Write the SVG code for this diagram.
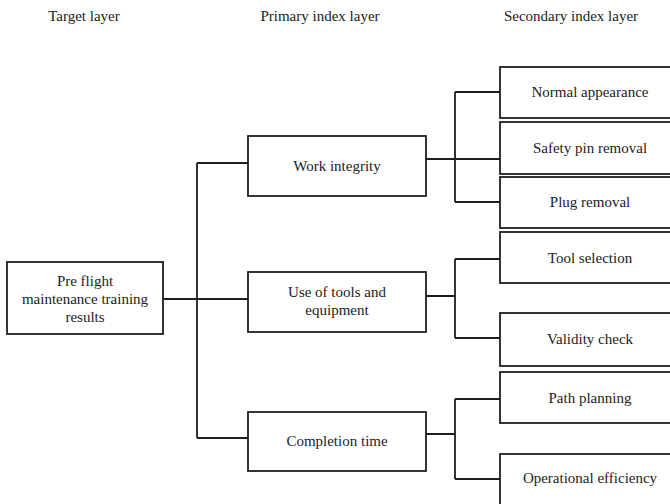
<svg xmlns="http://www.w3.org/2000/svg" width="670" height="504" viewBox="0 0 670 504">
  <style>
    .box { fill: #ffffff; stroke: #1e1e1e; stroke-width: 1.8; }
    .wire { fill: none; stroke: #1e1e1e; stroke-width: 1.8; }
    text { font-family: "Liberation Serif", "DejaVu Serif", "Times New Roman", serif; font-size: 15px; fill: #222222; text-anchor: middle; }
  </style>
  <rect width="670" height="504" fill="#ffffff"/>

  <!-- layer headings -->
  <g id="headings">
    <text x="84" y="21">Target layer</text>
    <text x="320" y="21">Primary index layer</text>
    <text x="571" y="21">Secondary index layer</text>
  </g>

  <!-- connectors -->
  <g id="connectors">
    <!-- target to primary -->
    <path class="wire" d="M163 299 H248 M197 163 V438 M197 163 H248 M197 438 H248"/>
    <!-- work integrity to its indices -->
    <path class="wire" d="M426 159 H500 M455 92 V202 M455 92 H500 M455 202 H500"/>
    <!-- tools and equipment to its indices -->
    <path class="wire" d="M426 296 H455 M455 259 V338 M455 259 H500 M455 338 H500"/>
    <!-- completion time to its indices -->
    <path class="wire" d="M426 434 H455 M455 399 V479 M455 399 H500 M455 479 H500"/>
  </g>

  <!-- target layer -->
  <g id="target">
    <rect class="box" x="7" y="262" width="156" height="72"/>
    <text x="85" y="286">Pre flight</text>
    <text x="85" y="304">maintenance training</text>
    <text x="85" y="322">results</text>
  </g>

  <!-- primary index layer -->
  <g id="work-integrity">
    <rect class="box" x="248" y="136" width="178" height="60"/>
    <text x="337" y="171">Work integrity</text>
  </g>
  <g id="tools-equipment">
    <rect class="box" x="248" y="272" width="178" height="60"/>
    <text x="337" y="297">Use of tools and</text>
    <text x="337" y="315">equipment</text>
  </g>
  <g id="completion-time">
    <rect class="box" x="248" y="412" width="178" height="59"/>
    <text x="337" y="446">Completion time</text>
  </g>

  <!-- secondary index layer -->
  <g id="normal-appearance">
    <rect class="box" x="500" y="67" width="190" height="51"/>
    <text x="590" y="97">Normal appearance</text>
  </g>
  <g id="safety-pin-removal">
    <rect class="box" x="500" y="122" width="190" height="52"/>
    <text x="590" y="153">Safety pin removal</text>
  </g>
  <g id="plug-removal">
    <rect class="box" x="500" y="177" width="190" height="51"/>
    <text x="590" y="207">Plug removal</text>
  </g>
  <g id="tool-selection">
    <rect class="box" x="500" y="232" width="190" height="51"/>
    <text x="590" y="263">Tool selection</text>
  </g>
  <g id="validity-check">
    <rect class="box" x="500" y="313" width="190" height="53"/>
    <text x="590" y="344">Validity check</text>
  </g>
  <g id="path-planning">
    <rect class="box" x="500" y="372" width="190" height="51"/>
    <text x="590" y="403">Path planning</text>
  </g>
  <g id="operational-efficiency">
    <rect class="box" x="500" y="454" width="190" height="60"/>
    <text x="590" y="483">Operational efficiency</text>
  </g>
</svg>
